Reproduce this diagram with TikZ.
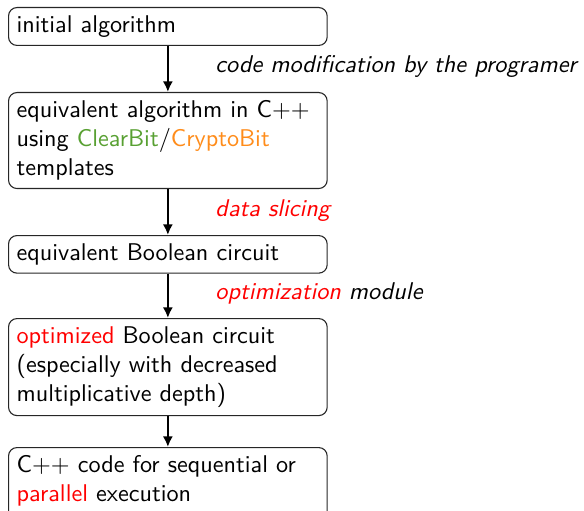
\documentclass[tikz,border=0pt]{standalone}
\usetikzlibrary{arrows.meta}
\definecolor{cbgreen}{RGB}{88,160,50}
\definecolor{cborange}{RGB}{255,140,26}
\begin{document}
\begin{tikzpicture}[x=0.4132pt,y=-0.4132pt,
  stepbox/.style={draw=black!85,rounded corners=3.5pt,anchor=north west,
    text width=125pt,align=left,inner sep=3.33pt,font=\sffamily,line width=0.45pt},
  flow/.style={-{Latex[length=4.4pt,width=4.2pt]},line width=0.9pt},
  lab/.style={anchor=base west,inner sep=0pt,font=\sffamily\itshape}]
\useasboundingbox (0,0) rectangle (584,510);
\clip (0,0) rectangle (584,510);
\node[stepbox] (b1) at (8,7) {initial algorithm};
\node[stepbox] (b2) at (8,92) {equivalent algorithm in C$++$\\using \textcolor{cbgreen}{ClearBit}/\textcolor{cborange}{CryptoBit}\\templates};
\node[stepbox] (b3) at (8,235) {equivalent Boolean circuit};
\node[stepbox] (b4) at (8,318) {\textcolor{red}{optimized} Boolean circuit\\(especially with decreased\\multiplicative depth)};
\node[stepbox] (b5) at (8,447) {C$++$ code for sequential or\\\textcolor{red}{parallel} execution\rule[-4pt]{0pt}{1pt}};
\draw[flow] (b1) -- (b2);
\draw[flow] (b2) -- (b3);
\draw[flow] (b3) -- (b4);
\draw[flow] (b4) -- (b5);
\node[lab] (l1) at (215,73) {code modification by the programer};
\node[lab,text=red] (l2) at (215,216) {data slicing};
\node[lab] (l3) at (215,299) {\textcolor{red}{optimization} module};
\end{tikzpicture}
\end{document}
